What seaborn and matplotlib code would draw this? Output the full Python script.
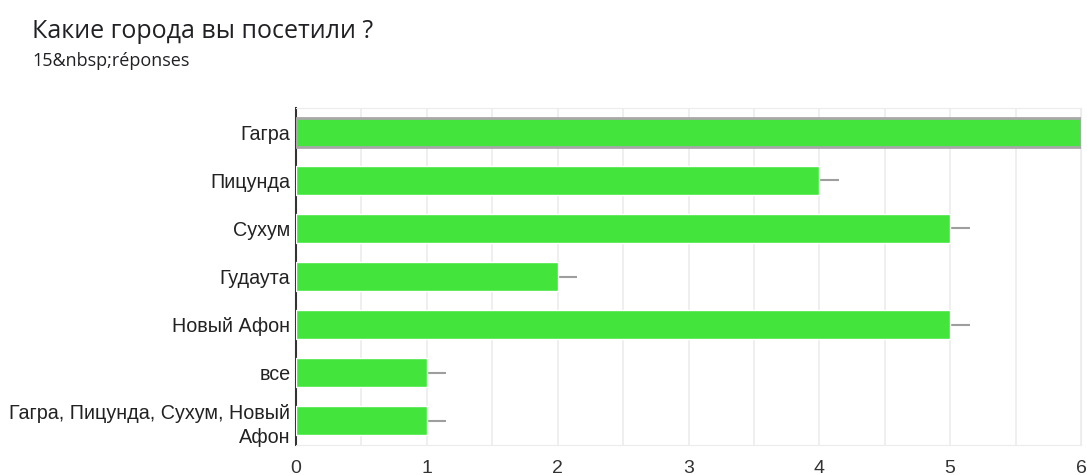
import pandas as pd
import matplotlib
matplotlib.use('Agg')
import matplotlib.pyplot as plt
import seaborn as sns
from matplotlib.ticker import MultipleLocator

# data
cities = ['Гагра', 'Пицунда', 'Сухум', 'Гудаута', 'Новый Афон', 'все',
          'Гагра, Пицунда, Сухум, Новый\nАфон']
counts = [6, 4, 5, 2, 5, 1, 1]
x_ticks = [0, 1, 2, 3, 4, 5, 6]

df = pd.DataFrame({'city': cities, 'count': counts})

sns.set_style('white')
plt.rcParams['font.family'] = ['Liberation Sans', 'DejaVu Sans']

fig = plt.figure(figsize=(10.87, 4.75), dpi=100)
ax = fig.add_axes([296 / 1087, 1 - 445 / 475, 785 / 1087, 337 / 475])

green = '#43e53d'
sns.barplot(data=df, x='count', y='city', orient='h', color=green,
            width=0.6, saturation=1, ax=ax, zorder=3)

# highlighted first bar gets a soft grey outline
first = ax.patches[0]
first.set_edgecolor('#a8a8a8')
first.set_linewidth(2)

# small grey stubs right of each bar end
ax.errorbar(df['count'], range(len(df)), xerr=[[0] * len(df), [0.15] * len(df)],
            fmt='none', ecolor='#9e9e9e', elinewidth=1.5, capsize=0, zorder=2)

ax.set_xlim(0, 6)
ax.set_ylim(6.5, -0.5)
ax.set_xticks(x_ticks)
ax.xaxis.set_minor_locator(MultipleLocator(0.5))
ax.grid(axis='x', which='both', color='#ececec', linewidth=1.2, zorder=0)
ax.set_axisbelow(True)
ax.tick_params(axis='both', which='both', length=0)
ax.tick_params(axis='x', labelsize=14, colors='#333333', pad=11)
ax.tick_params(axis='y', labelsize=14.2, colors='#222222', pad=4)
ax.set_xlabel('')
ax.set_ylabel('')
for lbl in ax.get_yticklabels():
    lbl.set_linespacing(1.35)

for side in ['top', 'bottom', 'right']:
    ax.spines[side].set_color('#ececec')
ax.spines['left'].set_color('#333333')
ax.spines['left'].set_linewidth(1.5)

title_font = ['Open Sans', 'DejaVu Sans']
fig.text(32 / 1087, 1 - 31 / 475, 'Какие города вы посетили ?', fontsize=18,
         color='#202124', va='center', ha='left', family=title_font)
fig.text(32 / 1087, 1 - 61 / 475, '15&nbsp;réponses', fontsize=13,
         color='#202124', va='center', ha='left', family=title_font)

fig.savefig('out.png', dpi=100)
